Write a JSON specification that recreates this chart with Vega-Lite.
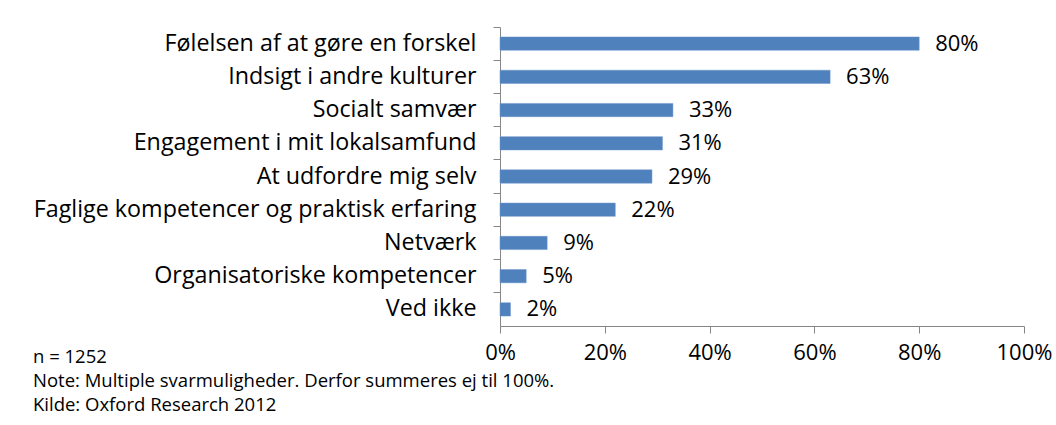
{
  "$schema": "https://vega.github.io/schema/vega-lite/v6.json",
  "autosize": "none",
  "width": 524,
  "height": 299,
  "padding": {"left": 500, "top": 27, "right": 32, "bottom": 99},
  "background": "white",
  "data": {"values": [
    {"cat": "Følelsen af at gøre en forskel", "v": 0.80},
    {"cat": "Indsigt i andre kulturer", "v": 0.63},
    {"cat": "Socialt samvær", "v": 0.33},
    {"cat": "Engagement i mit lokalsamfund", "v": 0.31},
    {"cat": "At udfordre mig selv", "v": 0.29},
    {"cat": "Faglige kompetencer og praktisk erfaring", "v": 0.22},
    {"cat": "Netværk", "v": 0.09},
    {"cat": "Organisatoriske kompetencer", "v": 0.05},
    {"cat": "Ved ikke", "v": 0.02}
  ]},
  "title": {
    "text": ["n = 1252", "Note: Multiple svarmuligheder. Derfor summeres ej til 100%.", "Kilde: Oxford Research 2012"],
    "orient": "bottom",
    "anchor": "start",
    "frame": "group",
    "dx": -467,
    "offset": -15,
    "baseline": "top",
    "font": "Open Sans",
    "fontSize": 18.5,
    "fontWeight": "normal",
    "lineHeight": 24,
    "color": "black"
  },
  "encoding": {
    "y": {
      "field": "cat", "type": "nominal", "sort": null,
      "scale": {"paddingInner": 0, "paddingOuter": 0},
      "axis": {
        "title": null,
        "bandPosition": 0,
        "domainColor": "#868686",
        "tickColor": "#868686",
        "tickSize": 7,
        "labelPadding": 17,
        "labelFont": "Open Sans",
        "labelFontSize": 23.3,
        "labelColor": "black",
        "labelLimit": 600
      }
    },
    "x": {
      "field": "v", "type": "quantitative",
      "scale": {"domain": [0, 1], "nice": false},
      "axis": {
        "title": null,
        "values": [0, 0.2, 0.4, 0.6, 0.8, 1],
        "format": ".0%",
        "grid": false,
        "domainColor": "#868686",
        "tickColor": "#868686",
        "tickSize": 7,
        "labelPadding": 9,
        "labelFont": "Open Sans",
        "labelFontSize": 22,
        "labelColor": "black",
        "labelFlush": false
      }
    }
  },
  "layer": [
    {"mark": {"type": "bar", "height": {"band": 0.4}, "color": "#4F81BD", "stroke": "#6C95CA", "strokeWidth": 0.5}},
    {"mark": {"type": "text", "align": "left", "dx": 16, "font": "Open Sans", "fontSize": 22, "color": "black"},
     "encoding": {"text": {"field": "v", "type": "quantitative", "format": ".0%"}}}
  ],
  "config": {"view": {"stroke": null}}
}
